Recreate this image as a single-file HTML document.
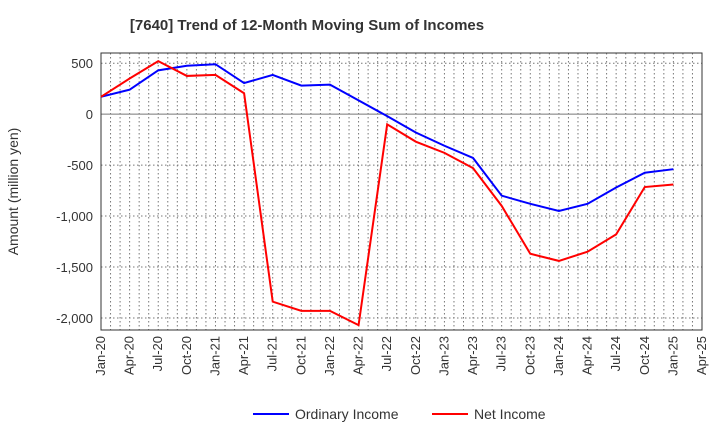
<!DOCTYPE html>
<html><head><meta charset="utf-8"><style>body{margin:0;background:#fff}svg text{font-family:"Liberation Sans",sans-serif}</style></head>
<body>
<svg id="c" width="720" height="440"></svg>
<script>
const categories=["Jan-20","Apr-20","Jul-20","Oct-20","Jan-21","Apr-21","Jul-21","Oct-21","Jan-22","Apr-22","Jul-22","Oct-22","Jan-23","Apr-23","Jul-23","Oct-23","Jan-24","Apr-24","Jul-24","Oct-24","Jan-25","Apr-25"];
const ordinaryIncome=[170,240,430,475,490,305,385,280,290,135,-20,-180,-310,-430,-800,-880,-950,-880,-720,-575,-540];
const netIncome=[170,350,520,375,385,205,-1840,-1930,-1930,-2070,-100,-270,-380,-530,-900,-1370,-1440,-1350,-1180,-715,-690];
const yTicks=[500,0,-500,-1000,-1500,-2000];
const yTickLabels=["500","0","-500","-1,000","-1,500","-2,000"];
const L=101,R=702,T=53,B=330,ymax=600,ymin=-2118;
const sx=i=>L+(R-L)*i/(categories.length-1);
const sy=v=>T+(ymax-v)/(ymax-ymin)*(B-T);
const svg=document.getElementById('c');const NS='http://www.w3.org/2000/svg';
function mk(t,a,p){const e=document.createElementNS(NS,t);for(const k in a)e.setAttribute(k,a[k]);(p||svg).appendChild(e);return e;}
let e=mk('text',{x:307,y:30,'text-anchor':'middle','font-size':15,'font-weight':'bold',fill:'#333'});e.textContent='[7640]  Trend of 12-Month Moving Sum of Incomes';


const nM=(categories.length-1)*3;
for(let m=1;m<nM;m++){const x=L+(R-L)*m/nM;e=mk('line',{x1:x,x2:x,y1:T,y2:B,stroke:'#777','stroke-dasharray':'1.5,2.5','stroke-width':1});

}
yTicks.forEach((v,i)=>{const y=sy(v);e=mk('line',{x1:L,x2:R,y1:y,y2:y,stroke:v===0?'#777':'#777','stroke-dasharray':v===0?'':'1.5,2.5','stroke-width':1});


e=mk('text',{x:L-8,y:y+5,'text-anchor':'end','font-size':13,fill:'#333'});e.textContent=yTickLabels[i];

});
e=mk('rect',{x:L,y:T,width:R-L,height:B-T,fill:'none',stroke:'#333','stroke-width':1});


categories.forEach((c,i)=>{const x=sx(i);e=mk('text',{transform:`translate(${x+4},${B+6}) rotate(-90)`,'text-anchor':'end','font-size':13,fill:'#333'});e.textContent=c;

});
e=mk('text',{transform:`translate(19,${(T+B)/2}) rotate(-90)`,'text-anchor':'middle','font-size':14,fill:'#333'});e.textContent='Amount (million yen)';
e.setAttribute('x','0');
e.setAttribute('transform',`translate(18,${(T+B)/2}) rotate(-90)`);


function line(d,col,name){e=mk('polyline',{points:d.map((v,i)=>sx(i)+','+sy(v)).join(' '),fill:'none',stroke:col,'stroke-width':2});

}
line(ordinaryIncome,'#0000ff','ordinary-income-line');
line(netIncome,'#ff0000','net-income-line');
[[253,'#0000ff','Ordinary Income','legend-ordinary-income'],[432,'#ff0000','Net Income','legend-net-income']].forEach(l=>{
const g=mk('g',{});

mk('line',{x1:l[0],x2:l[0]+36,y1:414,y2:414,stroke:l[1],'stroke-width':2},g);
const t=mk('text',{x:l[0]+42,y:419,'font-size':14,fill:'#333'},g);t.textContent=l[2];});
</script>
</body></html>
